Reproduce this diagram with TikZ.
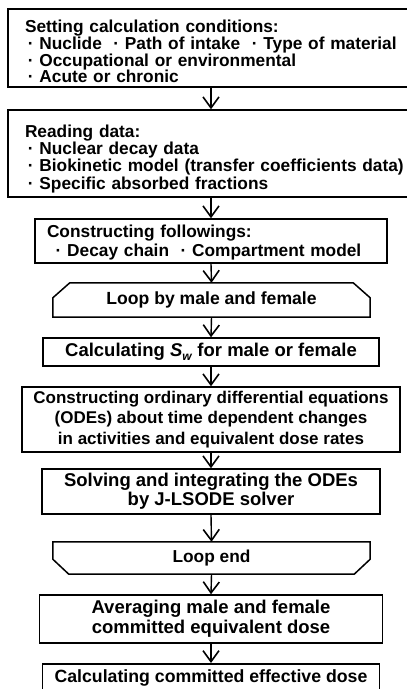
\documentclass[tikz,border=0pt]{standalone}
\usepackage{fontspec}
\setmainfont{Liberation Sans}
\usetikzlibrary{arrows.meta,calc}
\newcommand{\fs}[2]{\bfseries\fontsize{#1pt}{#2pt}\selectfont}
\tikzset{
  box/.style={draw, line width=1.5pt, inner sep=0pt, align=center},
  lbox/.style={box, align=left},
  bare/.style={inner sep=0pt, align=center},
  loopline/.style={line width=1.5pt, line join=miter},
  arr/.style={line width=1.4pt, -{Straight Barb[length=11pt,width=16pt,line width=1.6pt]}}
}
\begin{document}
\begin{tikzpicture}[x=1pt,y=1pt]
\useasboundingbox (0,0) rectangle (407,-689);
% box 1
\node[lbox, minimum width=406, minimum height=78, text width=372, font=\fs{17.3}{16.7}] (b1) at (211,-48)
 {\mbox{\rule{0pt}{20pt}Setting calculation conditions:}\\
  \mbox{\,·\ Nuclide\ \ ·\ Path of intake\ \ ·\ Type of material}\\
  \mbox{\,·\ Occupational or environmental}\\
  \mbox{\,·\ Acute or chronic}};
% box 2
\node[lbox, minimum width=406, minimum height=87, text width=372, font=\fs{17.3}{17.2}] (b2) at (211,-153.5)
 {\mbox{\rule{0pt}{23pt}Reading data:}\\
  \mbox{\,·\ Nuclear decay data}\\
  \mbox{\,·\ Biokinetic model\ (transfer coefficients data)}\\
  \mbox{\,·\ Specific absorbed fractions}};
% box 3
\node[lbox, minimum width=352, minimum height=44, text width=328, font=\fs{17.3}{19}] (b3) at (211,-241)
 {\mbox{\rule{0pt}{16pt}Constructing followings:}\\
  \mbox{\ \,·\ Decay chain\ \ ·\ Compartment model}};
% loop start
\node[bare, minimum width=317, minimum height=34, font=\fs{17.6}{20}] (ls) at (211.5,-300) {Loop by male and female};
\draw[loopline] (ls.south west) -- ($(ls.north west)+(0,-15)$) -- ($(ls.north west)+(17,0)$)
  -- ($(ls.north east)+(-17,0)$) -- ($(ls.north east)+(0,-15)$) -- (ls.south east) -- cycle;
% Sw
\node[box, minimum width=336, minimum height=28, font=\fs{18.5}{20}] (sw) at (211,-352)
 {Calculating \textit{S}\raisebox{-0.35ex}{\fontsize{12pt}{12pt}\selectfont\textit{w}} for male or female};
% ODE
\node[box, minimum width=378, minimum height=65, font=\fs{17}{20.5}] (ode) at (211,-419.5)
 {Constructing ordinary differential equations\\
  (ODEs) about time dependent changes\\
  in activities and equivalent dose rates};
% solve
\node[box, minimum width=338, minimum height=45, font=\fs{18.5}{19}] (sol) at (211,-491.5)
 {Solving and integrating the ODEs\\ by J-LSODE solver};
% loop end
\node[bare, minimum width=317, minimum height=32, font=\fs{17.3}{20}] (le) at (211.5,-558) {Loop end};
\draw[loopline] (le.north west) -- ($(le.south west)+(0,15)$) -- ($(le.south west)+(16,0)$)
  -- ($(le.south east)+(-16,0)$) -- ($(le.south east)+(0,15)$) -- (le.north east) -- cycle;
% averaging
\node[box, minimum width=343, minimum height=48, font=\fs{18.5}{20}] (avg) at (211,-619)
 {Averaging male and female\\ committed equivalent dose};
% final
\node[box, minimum width=337, minimum height=28, anchor=north, font=\fs{17.7}{20}] (fin) at (211,-663)
 {Calculating committed effective dose};
% arrows
\draw[arr] (b1.south) -- (b2.north);
\draw[arr] (b2.south) -- (b3.north);
\draw[arr] (b3.south) -- (ls.north);
\draw[arr] (ls.south) -- (sw.north);
\draw[arr] (sw.south) -- (ode.north);
\draw[arr] (ode.south) -- (sol.north);
\draw[arr] (sol.south) -- (le.north);
\draw[arr] (le.south) -- (avg.north);
\draw[arr] (avg.south) -- (fin.north);
\end{tikzpicture}
\end{document}
